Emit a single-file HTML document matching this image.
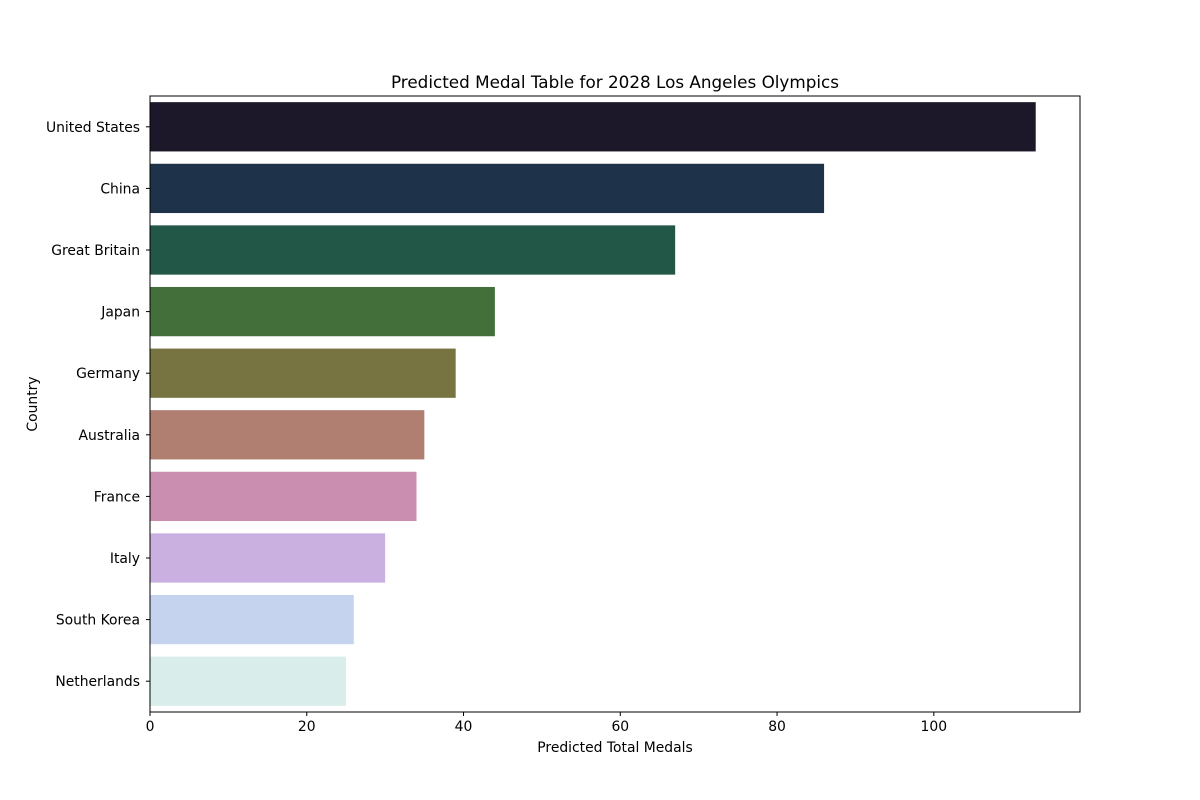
<!DOCTYPE html>
<html><head><meta charset="utf-8"><style>
body{margin:0;background:#fff;}
svg{display:block;font-family:"DejaVu Sans","Liberation Sans",sans-serif;}
</style></head><body>
<svg id="chart" width="1200" height="800">
<text x="615" y="88" font-size="16.8" text-anchor="middle">Predicted Medal Table for 2028 Los Angeles Olympics</text>
<text x="615" y="752" font-size="13.9" text-anchor="middle">Predicted Total Medals</text>
<text x="37" y="404" font-size="13.9" text-anchor="middle" transform="rotate(-90 37 404)">Country</text>
<g id="bars"></g><g id="ticks"></g>
<rect x="150" y="96" width="930" height="616" fill="none" stroke="#000" stroke-width="1"/>
</svg>
<script>
const categories=["United States","China","Great Britain","Japan","Germany","Australia","France","Italy","South Korea","Netherlands"];
const values=[113,86,67,44,39,35,34,30,26,25];
const colors=["#1c1829","#1e3349","#225647","#436f3b","#777441","#b07f71","#ca8eb0","#cab0e0","#c6d3ef","#d9eeeb"];
const xTicks=[0,20,40,60,80,100];
const L=150,R=1080,T=96,B=712,xMax=118.65;
const ns="http://www.w3.org/2000/svg";
const x=v=>L+(v/xMax)*(R-L);
const band=(B-T)/categories.length;
const bars=document.getElementById('bars'),ticks=document.getElementById('ticks');
function mk(t,a,p){const e=document.createElementNS(ns,t);for(const k in a)e.setAttribute(k,a[k]);p.appendChild(e);return e;}
categories.forEach((c,i)=>{
  const cy=T+band*(i+0.5);
  const r=mk('rect',{x:x(0),y:cy-band*0.4,width:x(values[i])-x(0),height:band*0.8,fill:colors[i]},bars);
  
  
  mk('line',{x1:L-4,x2:L,y1:cy,y2:cy,stroke:'#000'},ticks);
  const t=mk('text',{x:L-10,y:cy+5,'font-size':13.9,'text-anchor':'end'},ticks);
  t.textContent=c;
  
  
});
xTicks.forEach(v=>{
  mk('line',{x1:x(v),x2:x(v),y1:B,y2:B+4,stroke:'#000'},ticks);
  const t=mk('text',{x:x(v),y:B+19,'font-size':13.9,'text-anchor':'middle'},ticks);
  t.textContent=v;
  
  
});
</script>
</body></html>
